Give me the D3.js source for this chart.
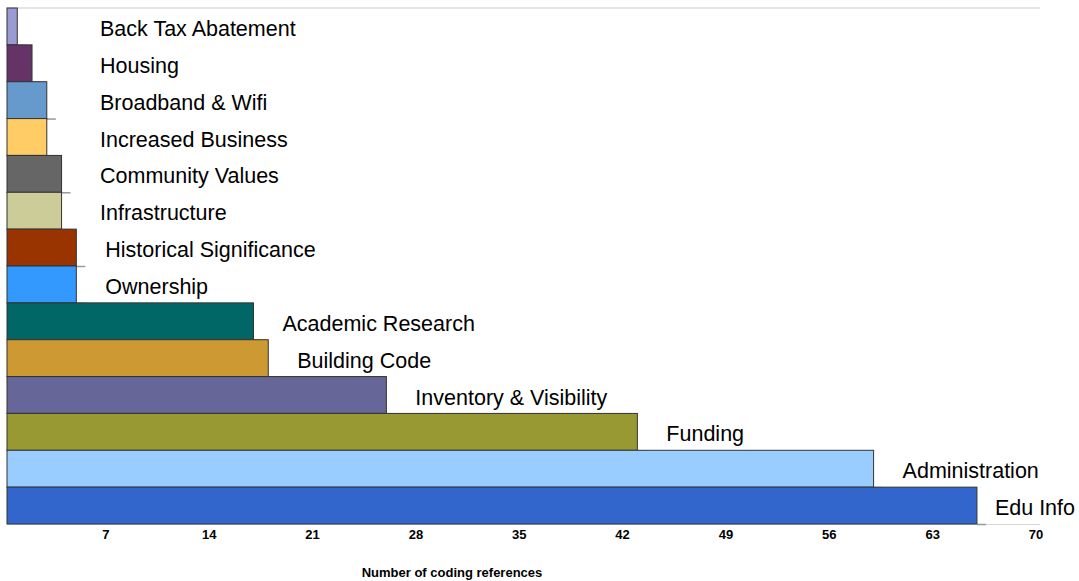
<!DOCTYPE html>
<html>
<head>
<meta charset="utf-8">
<script src="https://cdn.jsdelivr.net/npm/d3@7"></script>
<style>
    body { margin: 0; background: #fff; }
    .lbl { font-family: "Liberation Sans", Arial, sans-serif; font-size: 21.5px; fill: #000; }
    .tick-lbl { font-family: "Liberation Sans", Arial, sans-serif; font-size: 13px; font-weight: bold; fill: #000; }
    .axis-title { font-family: "Liberation Sans", Arial, sans-serif; font-size: 13px; font-weight: bold; fill: #000; }
</style>
</head>
<body>
<div id="barChart"></div>
<script>
// categories top to bottom
var categories = ['Back Tax Abatement', 'Housing', 'Broadband & Wifi', 'Increased Business',
    'Community Values', 'Infrastructure', 'Historical Significance', 'Ownership',
    'Academic Research', 'Building Code', 'Inventory & Visibility', 'Funding',
    'Administration', 'Edu Info'];
var values = [1, 2, 3, 3, 4, 4, 5, 5, 17, 18, 26, 43, 59, 66];
var colors = ['#9b9bd3', '#663366', '#6699cc', '#ffcc66', '#666666', '#cccc99', '#993300',
    '#3399ff', '#006666', '#cc9933', '#666699', '#999933', '#99ccff', '#3366cc'];
var tickValues = [7, 14, 21, 28, 35, 42, 49, 56, 63, 70];
var axisTitle = 'Number of coding references';

var width = 1079, height = 581;
var plot = { left: 7, top: 8, right: 1040, bottom: 524 };

var data = categories.map(function(c, i) {
    return { name: c, value: values[i], color: colors[i] };
});

var x = d3.scaleLinear()
    .domain([0, 70])
    .range([2.5, 1036]);
var y = d3.scaleBand()
    .domain(categories)
    .range([plot.top, plot.bottom])
    .padding(0);

var svg = d3.select('#barChart').append('svg')
    .attr('width', width)
    .attr('height', height);

// top frame line
svg.append('line')
    .attr('x1', plot.left).attr('x2', plot.right)
    .attr('y1', plot.top).attr('y2', plot.top)
    .attr('stroke', '#dddddd')
    .attr('stroke-width', 1.5);

// baseline
svg.append('line')
    .attr('x1', plot.left).attr('x2', plot.right)
    .attr('y1', plot.bottom + 0.5).attr('y2', plot.bottom + 0.5)
    .attr('stroke', '#d8d8d8')
    .attr('stroke-width', 1);

// little shadow under each bar end
svg.selectAll('.shadow')
    .data(data)
    .enter()
    .append('line')
    .attr('class', 'shadow')
    .attr('x1', function(d) { return x(d.value); })
    .attr('x2', function(d) { return x(d.value) + 9; })
    .attr('y1', function(d) { return y(d.name) + y.bandwidth() + 0.5; })
    .attr('y2', function(d) { return y(d.name) + y.bandwidth() + 0.5; })
    .attr('stroke', '#999')
    .attr('stroke-width', 1.5);

svg.selectAll('.bar')
    .data(data)
    .enter()
    .append('rect')
    .attr('class', 'bar')
    .attr('x', plot.left)
    .attr('y', function(d) { return y(d.name); })
    .attr('width', function(d) { return x(d.value) - plot.left; })
    .attr('height', y.bandwidth())
    .attr('fill', function(d) { return d.color; })
    .attr('stroke', '#333')
    .attr('stroke-width', 1);

svg.selectAll('.lbl')
    .data(data)
    .enter()
    .append('text')
    .attr('class', 'lbl')
    .attr('y', function(d) { return y(d.name) + y.bandwidth() / 2 + 2; })
    .attr('dy', '0.35em')
    .text(function(d) { return d.name; })
    .attr('x', function(d) {
        // keep label right of the bar but inside the page
        var w = this.getComputedTextLength();
        return Math.min(Math.max(x(d.value) + 29, 100), width - 4 - w);
    });

// tick labels
svg.selectAll('.tick-lbl')
    .data(tickValues)
    .enter()
    .append('text')
    .attr('class', 'tick-lbl')
    .attr('x', function(d) { return x(d); })
    .attr('y', 539)
    .attr('text-anchor', 'middle')
    .text(function(d) { return d; });

svg.append('text')
    .attr('class', 'axis-title')
    .attr('x', 452)
    .attr('y', 577)
    .attr('text-anchor', 'middle')
    .text(axisTitle);
</script>
</body>
</html>
